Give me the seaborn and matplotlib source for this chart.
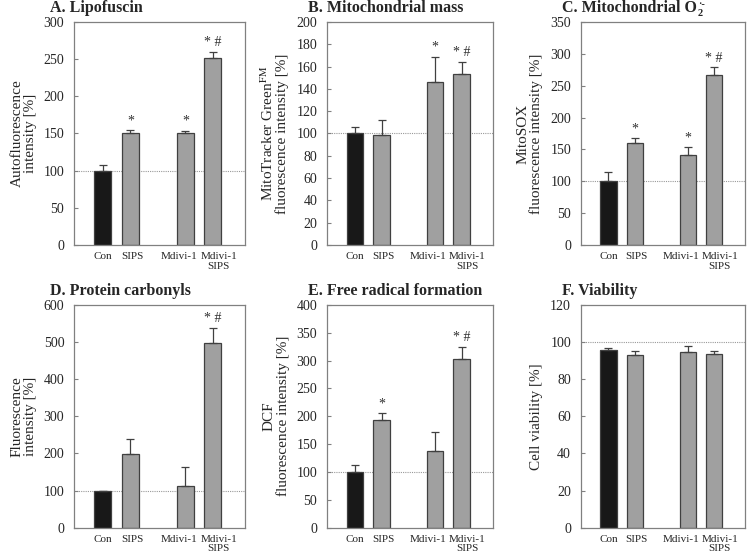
import numpy as np
import pandas as pd
import matplotlib
matplotlib.use("Agg")
import matplotlib.pyplot as plt
import seaborn as sns

# categories (the empty one is the gap between the two groups)
groups = ["Con", "SIPS", "", "Mdivi-1", "Mdivi-1\nSIPS"]
bar_groups = ["Con", "SIPS", "Mdivi-1", "Mdivi-1\nSIPS"]

# panel values (mean, upper SD)
lipofuscin = [100, 151, 150, 252]
lipofuscin_err = [7, 4, 4, 8]
mito_mass = [100, 99, 146, 153]
mito_mass_err = [6, 13, 23, 11]
mito_sox = [100, 160, 142, 266]
mito_sox_err = [14, 8, 12, 13]
carbonyls = [100, 198, 112, 498]
carbonyls_err = [0, 42, 51, 40]
dcf = [100, 194, 138, 302]
dcf_err = [12, 11, 34, 23]
viability = [95.5, 93, 94.5, 93.5]
viability_err = [1.3, 2, 3.5, 1.8]

# significance marks
marks_a = ["", "*", "*", "* #"]
marks_b = ["", "", "*", "* #"]
marks_c = ["", "*", "*", "* #"]
marks_d = ["", "", "", "* #"]
marks_e = ["", "*", "", "* #"]
marks_f = ["", "", "", ""]

titles = ["A. Lipofuscin", "B. Mitochondrial mass", "C. Mitochondrial O",
          "D. Protein carbonyls", "E. Free radical formation", "F. Viability"]
ylabels = ["Autofluorescence\nintensity [%]",
           "MitoTracker Green$^{\\rm FM}$\nfluorescence intensity [%]",
           "MitoSOX\nfluorescence intensity [%]",
           "Fluorescence\nintensity [%]",
           "DCF\nfluorescence intensity [%]",
           "Cell viability [%]"]
ylims = [(300, 50), (200, 20), (350, 50), (600, 100), (400, 50), (120, 20)]

panels = [(lipofuscin, lipofuscin_err, marks_a), (mito_mass, mito_mass_err, marks_b),
          (mito_sox, mito_sox_err, marks_c), (carbonyls, carbonyls_err, marks_d),
          (dcf, dcf_err, marks_e), (viability, viability_err, marks_f)]

sns.set_theme(style="white")
plt.rcParams['font.family'] = ['Liberation Serif', 'DejaVu Serif']
plt.rcParams['mathtext.fontset'] = 'stix'

W, H = 747, 555
fig = plt.figure(figsize=(W / 100, H / 100), dpi=100)
renderer = fig.canvas.get_renderer()

# axes boxes in figure fractions
lefts = [0.0991, 0.4378, 0.7774]
widths = [0.2289, 0.2218, 0.2200]
bottoms = [0.5586, 0.0491]
height = 0.4018
title_x = [50 / W, 308 / W, 562 / W]
title_y = [1 - 12.5 / H, 1 - 295 / H]

palette = {"Con": "#181818", "SIPS": "#a0a0a0", "": "#a0a0a0",
           "Mdivi-1": "#a0a0a0", "Mdivi-1\nSIPS": "#a0a0a0"}

for i, (vals, errs, marks) in enumerate(panels):
    r, c = divmod(i, 3)
    ax = fig.add_axes([lefts[c], bottoms[r], widths[c], height])
    df = pd.DataFrame({"group": bar_groups, "value": vals})
    sns.barplot(data=df, x="group", y="value", order=groups, hue="group",
                palette=palette, width=0.62, edgecolor="#404040", linewidth=0.9,
                legend=False, ax=ax)
    xpos = [groups.index(g) for g in bar_groups]
    ax.errorbar(xpos, vals, yerr=[np.zeros(4), errs], fmt="none",
                ecolor="#404040", elinewidth=0.9, capsize=3, capthick=0.9)
    ymax, step = ylims[i]
    for x, v, e, m in zip(xpos, vals, errs, marks):
        if m:
            ax.text(x, v + e + ymax * 0.012, m, ha="center", va="bottom",
                    fontsize=10, color="#303030")
    ax.axhline(100, color="#999999", linestyle=(0, (1, 1)), linewidth=0.8, zorder=0)
    ax.set_xlim(-1.05, 5.17)
    ax.set_ylim(0, ymax)
    ax.set_yticks(np.arange(0, ymax + 1, step))
    # labels of the two right bars sit slightly apart, as in the original
    ax.set_xticks([0, 1.07, 2.76, 4.21])
    ax.set_xticklabels(bar_groups, fontsize=8, linespacing=1.1)
    ax.tick_params(axis="y", direction="in", length=3, width=0.8, color="#808080",
                   labelsize=10, pad=7, left=True)
    ax.tick_params(axis="x", length=0, pad=5)
    for s in ax.spines.values():
        s.set_color("#808080")
        s.set_linewidth(0.9)
    ax.set_xlabel("")
    ax.set_ylabel(ylabels[i], fontsize=11, linespacing=1.0, labelpad=5)
    t = fig.text(title_x[c], title_y[r], titles[i], ha="left", va="baseline",
                 fontsize=11.5, fontweight="bold")
    if i == 2:
        # subscript 2 and superoxide radical sign after the "O"
        bb = t.get_window_extent(renderer)
        x1 = (bb.x1 + 0.5) / W
        fig.text(x1, title_y[r] - 3 / H, "2", ha="left", va="baseline",
                 fontsize=7.5, fontweight="bold")
        fig.text(x1 + 1 / W, title_y[r] + 5 / H, "\u00b7-", ha="left", va="baseline",
                 fontsize=7.5, fontweight="bold")

fig.savefig("out.png", dpi=100)
